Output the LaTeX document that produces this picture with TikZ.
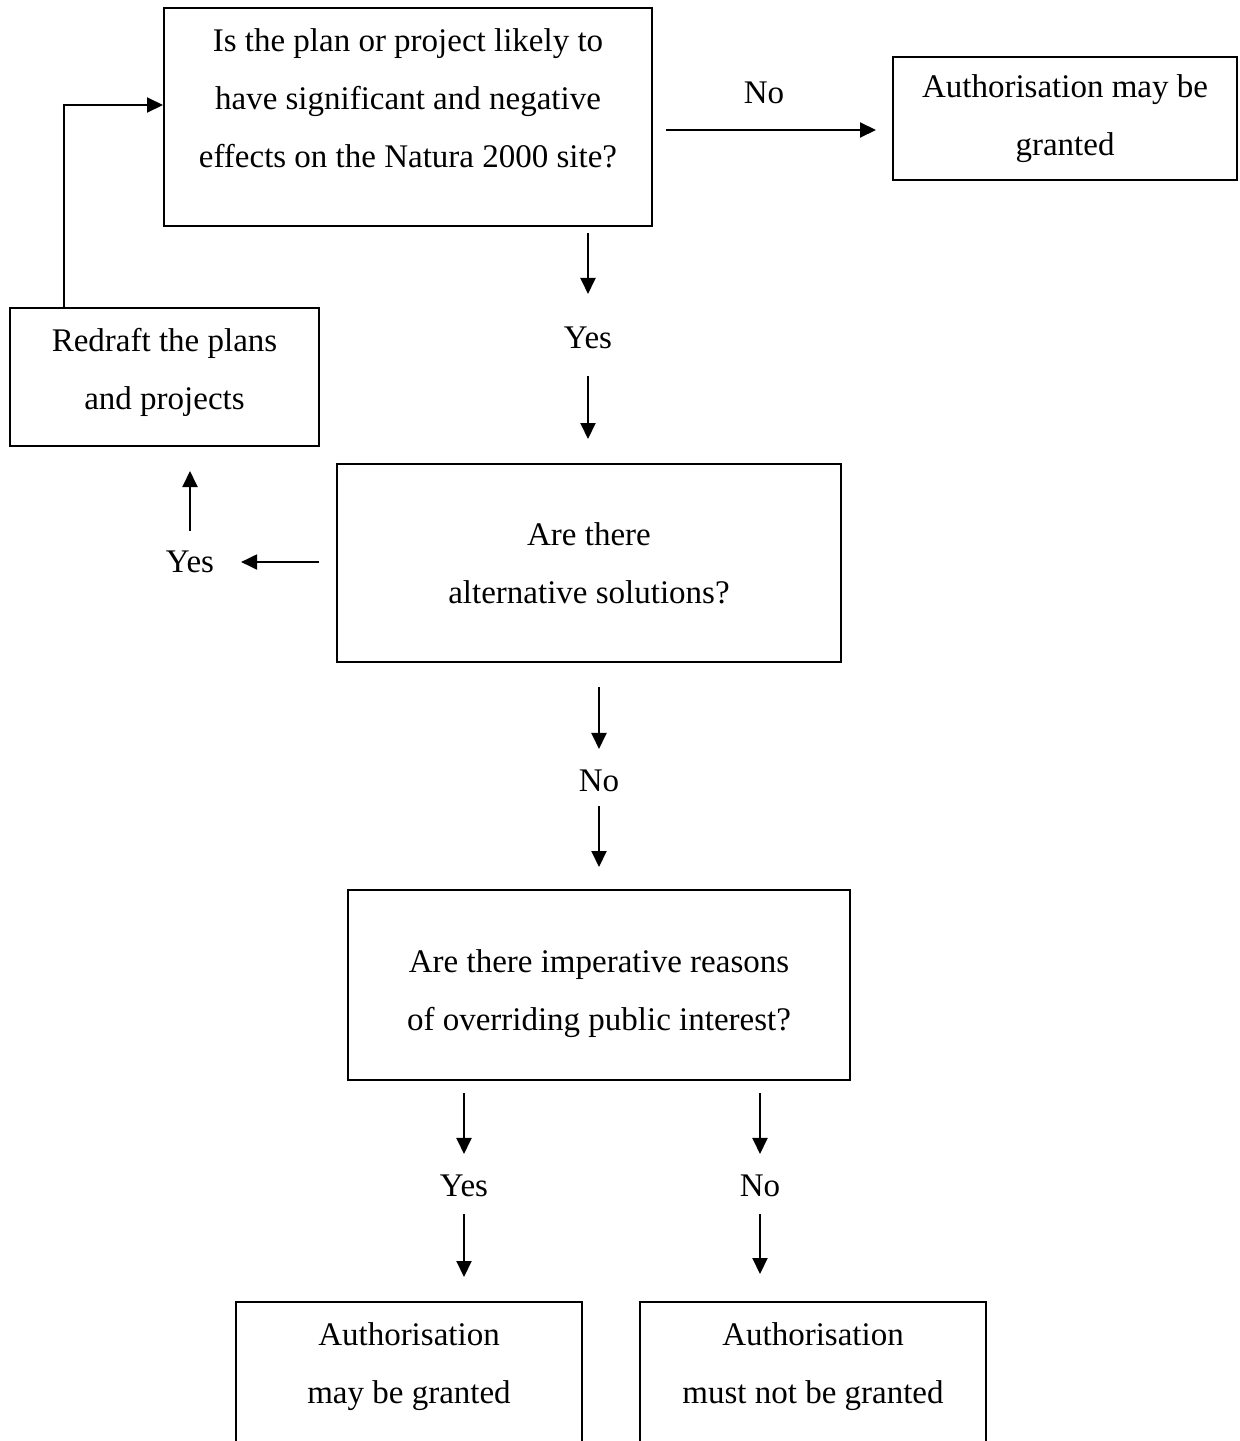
\documentclass[tikz,border=0pt]{standalone}
\usepackage{fontspec}
\setmainfont{Liberation Serif}
\usetikzlibrary{arrows.meta}
\tikzstyle{block}=[draw, line width=1pt, align=center]
\tikzstyle{arrow}=[line width=1pt,->,>={Triangle[length=8pt,width=7.5pt]}]

\begin{document}
\begin{tikzpicture}[x=0.5pt,y=-0.5pt,font=\fontsize{16.5}{29}\selectfont]
\useasboundingbox (0,0) rectangle (1239,1441);
% boxes
\node (q1) [block, minimum width=244pt, minimum height=109pt] at (408,117) {Is the plan or project likely to\\have significant and negative\\effects on the Natura 2000 site?\\[-10pt]\mbox{}};
\node (grant1) [block, minimum width=172pt, minimum height=61.5pt] at (1065,118.5) {Authorisation may be\\granted};
\node (redraft) [block, minimum width=154.5pt, minimum height=69pt] at (164.5,377) {Redraft the plans\\and projects\\[-20.4pt]\mbox{}};
\node (q2) [block, minimum width=252pt, minimum height=99pt] at (589,563) {Are there\\alternative solutions?};
\node (q3) [block, minimum width=251pt, minimum height=95pt] at (599,985) {\mbox{}\\[-8.8pt]Are there imperative reasons\\of overriding public interest?};
\node (grant2) [block, minimum width=173pt, minimum height=71pt] at (409,1373) {Authorisation\\may be granted\\[-19.4pt]\mbox{}};
\node (refuse) [block, minimum width=173pt, minimum height=71pt] at (813,1373) {Authorisation\\must not be granted\\[-19.4pt]\mbox{}};
% labels
\node (no1) at (764,93) {No};
\node (yes1) at (588,338) {Yes};
\node (yes2) at (190,562) {Yes};
\node (no2) at (599,781) {No};
\node (yes3) at (464,1186) {Yes};
\node (no3) at (760,1186) {No};
% arrows
\draw[arrow,shorten <=6.5pt,shorten >=8pt] ([yshift=-6.5pt]q1.east) -- ([yshift=-6.5pt]q1.east -| grant1.west);
\draw[arrow,shorten <=3pt,shorten >=13pt] (yes1 |- q1.south) -- (yes1.north);
\draw[arrow,shorten <=10pt,shorten >=12pt] (yes1.south) -- (yes1.south |- q2.north);
\draw[arrow,shorten <=8.5pt,shorten >=10pt] (q2.west |- yes2) -- (yes2.east);
\draw[arrow,shorten <=6.5pt,shorten >=12pt] (yes2.north) -- (yes2.north |- redraft.south);
\draw[arrow] ([xshift=27.5pt]redraft.north west) |- ([yshift=6pt]q1.west);
\draw[arrow,shorten <=12pt,shorten >=7pt] (no2 |- q2.south) -- (no2.north);
\draw[arrow,shorten <=3.5pt,shorten >=11pt] (no2.south) -- (no2.south |- q3.north);
\draw[arrow,shorten <=6pt,shorten >=7pt] (yes3 |- q3.south) -- (yes3.north);
\draw[arrow,shorten <=5pt,shorten >=12pt] (yes3.south) -- (yes3.south |- grant2.north);
\draw[arrow,shorten <=6pt,shorten >=7pt] (no3 |- q3.south) -- (no3.north);
\draw[arrow,shorten <=5pt,shorten >=13.5pt] (no3.south) -- (no3.south |- refuse.north);
\end{tikzpicture}
\end{document}
